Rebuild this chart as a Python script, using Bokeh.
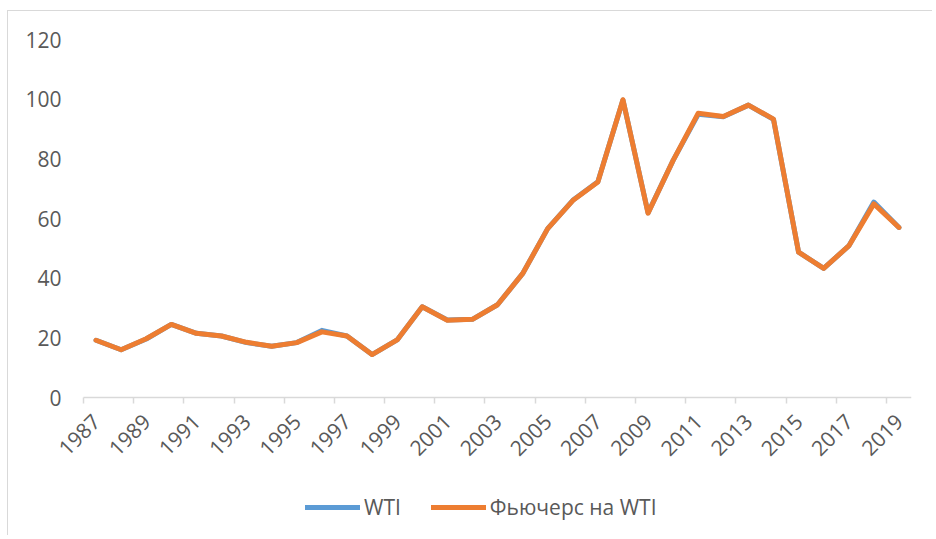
import math
from bokeh.plotting import figure
from bokeh.models import FixedTicker, Legend, LegendItem, ColumnDataSource
from bokeh.embed import file_html
from bokeh.resources import INLINE

years = list(range(1987, 2020))
wti = [19.2, 16.0, 19.6, 24.5, 21.5, 20.6, 18.4, 17.2, 18.4, 22.5, 20.6, 14.4,
       19.3, 30.4, 26.0, 26.2, 31.1, 41.5, 56.6, 66.1, 72.3, 99.7, 61.9, 79.5,
       94.9, 94.1, 98.0, 93.2, 48.7, 43.3, 50.8, 65.5, 57.0]
futures = [19.2, 16.0, 19.7, 24.5, 21.5, 20.6, 18.5, 17.2, 18.4, 22.0, 20.6, 14.4,
           19.3, 30.4, 25.9, 26.2, 31.1, 41.5, 56.6, 66.0, 72.2, 99.8, 61.8, 79.5,
           95.3, 94.2, 98.0, 93.3, 48.7, 43.3, 50.8, 64.9, 57.0]
tick_labels = [str(y) for y in years[::2]]
y_ticks = [0, 20, 40, 60, 80, 100, 120]

FONT = "Open Sans"
TXT = "#595959"
GRAY = "#d9d9d9"

# plot area geometry (pixels): 828 px for the 33 years, 75 px left of it for labels,
# 358 px for 0..120, 28 px above it, 139 px below zero for year labels and legend
Y_MAX = 120
px_per_unit = 358 / Y_MAX
y_start = -139 / px_per_unit
y_end = Y_MAX + 28 / px_per_unit
x_lo = years[0] - 0.5
x_hi = years[-1] + 0.5
x_start = x_lo - 75 / (828 / len(years))

src = ColumnDataSource(dict(year=years, wti=wti, fut=futures))

p = figure(width=925, height=525, output_backend="svg", toolbar_location=None,
           x_range=(x_start, x_hi), y_range=(y_start, y_end),
           min_border_left=0, min_border_right=22, min_border_top=0,
           min_border_bottom=0)
p.outline_line_color = None
p.xgrid.grid_line_color = None
p.ygrid.grid_line_color = None
p.styles = {"margin-left": "7px", "margin-top": "10px",
            "border-top": "1px solid #d9d9d9", "border-left": "1px solid #d9d9d9"}

r1 = p.line("year", "wti", source=src, line_color="#5B9BD5", line_width=5,
            line_join="round", line_cap="round")
r2 = p.line("year", "fut", source=src, line_color="#ED7D31", line_width=5,
            line_join="round", line_cap="round")

# x axis, drawn on the zero line
xt = FixedTicker(ticks=years[::2], minor_ticks=[y - 0.5 for y in years[::2]])
p.xaxis.fixed_location = 0
p.xaxis.bounds = (x_lo, x_hi)
p.xaxis.ticker = xt
p.xaxis.major_label_overrides = {y: lab for y, lab in zip(years[::2], tick_labels)}
p.xaxis.major_tick_line_color = None
p.xaxis.major_tick_out = 0
p.xaxis.major_tick_in = 0
p.xaxis.minor_tick_line_color = GRAY
p.xaxis.minor_tick_line_width = 1.5
p.xaxis.minor_tick_in = 0
p.xaxis.minor_tick_out = 6
p.xaxis.axis_line_color = GRAY
p.xaxis.axis_line_width = 1.5
p.xaxis.major_label_orientation = math.pi / 4
p.xaxis.major_label_text_font = FONT
p.xaxis.major_label_text_font_size = "21px"
p.xaxis.major_label_text_color = TXT
p.xaxis.major_label_standoff = 14

# y axis, drawn at the left edge of the year span
p.yaxis.fixed_location = x_lo
p.yaxis.ticker = FixedTicker(ticks=y_ticks)
p.yaxis.bounds = (0, Y_MAX)
p.yaxis.axis_line_color = None
p.yaxis.major_tick_line_color = None
p.yaxis.major_tick_out = 0
p.yaxis.major_tick_in = 0
p.yaxis.minor_tick_line_color = None
p.yaxis.major_label_text_font = FONT
p.yaxis.major_label_text_font_size = "21px"
p.yaxis.major_label_text_color = TXT
p.yaxis.major_label_standoff = 22

legend = Legend(items=[LegendItem(label="WTI", renderers=[r1]),
                       LegendItem(label="Фьючерс на WTI", renderers=[r2])],
                orientation="horizontal", location=(297, 15),
                glyph_width=55, glyph_height=20, label_standoff=4, spacing=30,
                label_text_font=FONT, label_text_font_size="21px",
                label_text_color=TXT, border_line_color=None,
                background_fill_alpha=0, padding=4, margin=0)
p.add_layout(legend, "center")

open("out.html", "w").write(file_html(p, INLINE))
